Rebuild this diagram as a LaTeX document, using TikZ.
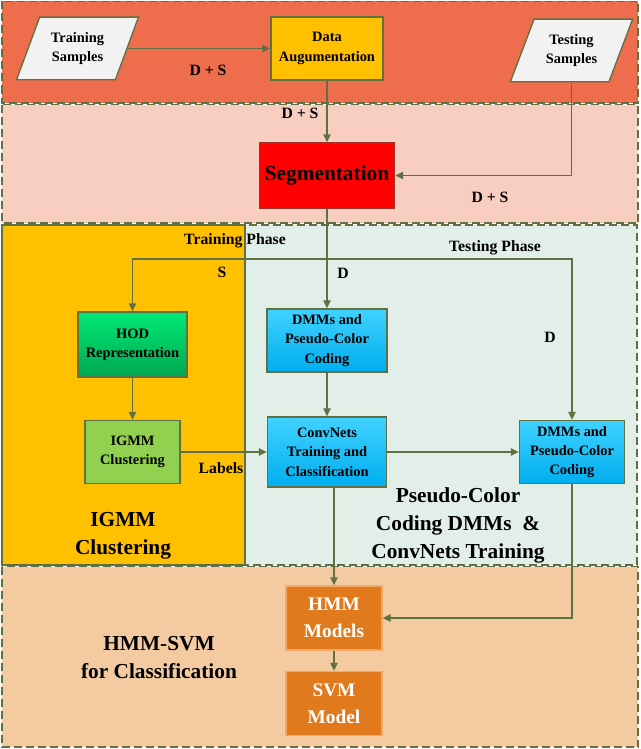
\documentclass[tikz,border=0pt]{standalone}
\usepackage{fontspec}
\setmainfont{Liberation Serif}
\usetikzlibrary{shapes.geometric,arrows.meta,calc}
\definecolor{lineol}{HTML}{5F7143}
\definecolor{bandA}{HTML}{ED6D4D}
\definecolor{bandB}{HTML}{F8CEC1}
\definecolor{bandCl}{HTML}{FFC000}
\definecolor{bandCr}{HTML}{E2EEE8}
\definecolor{bandD}{HTML}{F4CAA0}
\definecolor{paral}{HTML}{F2F2F2}
\definecolor{augfill}{HTML}{FFC000}
\definecolor{segfill}{HTML}{FF0000}
\definecolor{segline}{HTML}{A0302A}
\definecolor{hodtop}{HTML}{00E874}
\definecolor{hodbot}{HTML}{00A850}
\definecolor{igmmfill}{HTML}{92D050}
\definecolor{bluetop}{HTML}{40D2FF}
\definecolor{bluebot}{HTML}{00AEEF}
\definecolor{hmmfill}{HTML}{E07A1C}
\definecolor{hmmline}{HTML}{F2A868}
\begin{document}
\begin{tikzpicture}[x=0.75pt,y=-0.75pt,
  conn/.style={draw=lineol, line width=1pt},
  arr/.style={conn, -{Triangle[length=6pt,width=5.5pt]}},
  band/.style={draw=lineol, line width=1.3pt, dash pattern=on 6pt off 3pt},
  boxbase/.style={rectangle, draw=lineol, line width=1pt, align=center,
    font=\bfseries\fontsize{10.8}{14.5}\selectfont, inner sep=1pt},
  para/.style={trapezium, trapezium left angle=64, trapezium right angle=116,
    trapezium stretches=true, draw=lineol, line width=1pt, fill=paral,
    align=center, font=\bfseries\fontsize{10.8}{14.5}\selectfont,
    minimum width=92pt, minimum height=47pt, inner sep=1pt},
  bluebox/.style={boxbase, top color=bluetop, bottom color=bluebot},
  orgbox/.style={boxbase, fill=hmmfill, draw=hmmline, text=white,
    font=\bfseries\fontsize{14.5}{20}\selectfont, minimum width=72pt, minimum height=48pt},
  lbl/.style={font=\bfseries\fontsize{11.8}{13}\selectfont, inner sep=0pt},
  big/.style={font=\bfseries\fontsize{16}{21}\selectfont, align=center, inner sep=0pt}]
\useasboundingbox (0,0) rectangle (640,749);
\fill[white] (0,0) rectangle (640,749);
% bands
\path[band, fill=bandA] (2,1.5) rectangle (638,103);
\path[band, fill=bandB] (2,104.5) rectangle (638,223);
\path[band, fill=bandCr] (245,225) rectangle (637,565);
\path[draw=lineol, line width=1.3pt, fill=bandCl] (2,225) rectangle (245,565);
\path[band, fill=bandD] (2,566.5) rectangle (638,747);

% nodes
\node[para] (train) at (77.5,48.5) {Training\\Samples};
\node[para] (test) at (571.5,50.5) {Testing\\Samples};
\node[boxbase, fill=augfill, minimum width=84pt, minimum height=47.25pt] (aug) at (327,48.5) {Data\\Augumentation};
\node[boxbase, fill=segfill, draw=segline, minimum width=101.25pt, minimum height=48.75pt,
  font=\bfseries\fontsize{16}{18}\selectfont] (seg) at (327,175.5) {Segmentation};
\node[boxbase, top color=hodtop, bottom color=hodbot, minimum width=81.75pt, minimum height=48.75pt] (hod) at (132.5,344.5) {HOD\\Representation};
\node[boxbase, fill=igmmfill, minimum width=71.25pt, minimum height=47.25pt] (igmm) at (132.5,452) {IGMM\\Clustering};
\node[bluebox, minimum width=90pt, minimum height=47.25pt] (dmmA) at (327,340.5) {DMMs and\\Pseudo-Color\\Coding};
\node[bluebox, minimum width=89.25pt, minimum height=52.5pt] (conv) at (327,452) {ConvNets\\Training and\\Classification};
\node[bluebox, minimum width=78.75pt, minimum height=47.25pt] (dmmB) at (572,452) {DMMs and\\Pseudo-Color\\Coding};
\node[orgbox] (hmm) at (334,618) {HMM\\Models};
\node[orgbox] (svm) at (334,703.5) {SVM\\Model};

% labels
\node[lbl] (l1) at (208,70) {D + S};
\node[lbl] (l2) at (300,113) {D + S};
\node[lbl] (l3) at (490,197) {D + S};
\node[lbl] (l4) at (235,241) {Training Phase};
\node[lbl] (l5) at (495,248) {Testing Phase};
\node[lbl] (l6) at (222,272) {S};
\node[lbl] (l7) at (343,273) {D};
\node[lbl] (l8) at (550,337) {D};
\node[lbl] (l9) at (221,468) {Labels};
\node[big] (t1) at (123,536) {IGMM\\Clustering};
\node[big] (t2) at (458,525) {Pseudo-Color\\Coding DMMs \ \&\\ConvNets Training};
\node[big] (t3) at (159,658) {HMM-SVM\\for Classification};

% connectors
\coordinate (split) at (327,259);
\draw[arr] (train.east) -- (train.east -| aug.west);
\draw[arr] (aug.south) -- (seg.north);
\draw[arr] (test.south) |- (seg.east);
\draw[arr] (seg.south) -- (dmmA.north);
\draw[arr] (split) -| (hod.north);
\draw[arr] (split) -| (dmmB.north);
\draw[arr] (hod.south) -- (igmm.north);
\draw[arr] (dmmA.south) -- (conv.north);
\draw[arr] (igmm.east) -- (conv.west);
\draw[arr] (conv.east) -- (dmmB.west);
\draw[arr] (conv.south -| hmm.north) -- (hmm.north);
\draw[arr] (dmmB.south) |- (hmm.east);
\draw[arr] (hmm.south) -- (svm.north);
\end{tikzpicture}
\end{document}
